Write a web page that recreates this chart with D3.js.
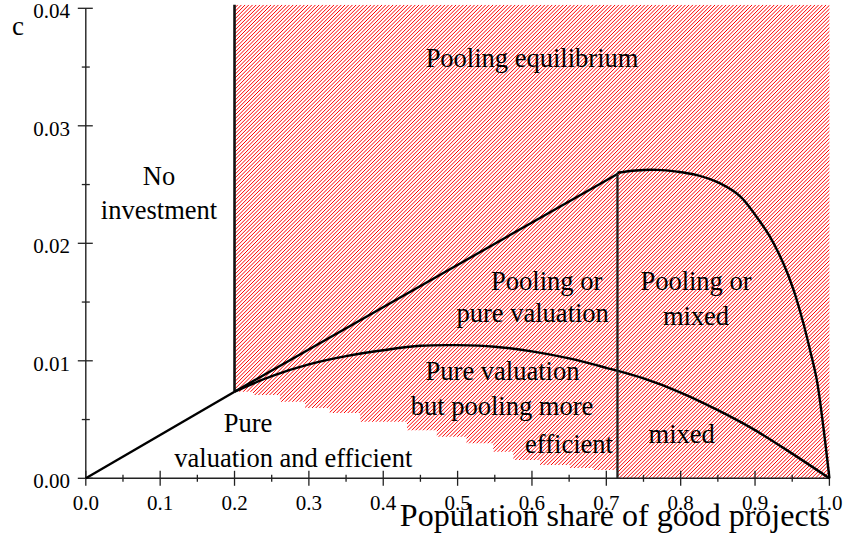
<!DOCTYPE html>
<html>
<head>
<meta charset="utf-8">
<script src="https://cdn.jsdelivr.net/npm/d3@7/dist/d3.min.js"></script>
<style>
  body { margin: 0; background: #fff; }
  svg { display: block; }
</style>
</head>
<body>
<svg id="chart" width="847" height="545"></svg>
<script>
// ---------- data ----------
const xMajorTicks = [0.0, 0.1, 0.2, 0.3, 0.4, 0.5, 0.6, 0.7, 0.8, 0.9, 1.0];
const xMinorTicks = [0.05, 0.15, 0.25, 0.35, 0.45, 0.55, 0.65, 0.75, 0.85, 0.95];
const yMajorTicks = [0.00, 0.01, 0.02, 0.03, 0.04];
const yMinorTicks = [0.005, 0.015, 0.025, 0.035];

const regionTop = 0.0403;
const xLow = 0.2;          // no-investment threshold
const xMix = 0.715;        // mixed threshold

// line from origin to the kink
const entryX = [0.0, 0.2];
const entryC = [0.0, 0.00737];
// straight upper boundary of "pure valuation"
const upperX = [0.2, 0.715];
const upperC = [0.00737, 0.0259];
// curved boundary of "pure valuation but pooling more efficient"
const lowerX = [0.2, 0.25, 0.3, 0.35, 0.4, 0.45, 0.5, 0.55, 0.6, 0.65, 0.7, 0.75, 0.8, 0.85, 0.9, 0.95, 1.0];
const lowerC = [0.00737, 0.0087, 0.0097, 0.0104, 0.0109, 0.01128, 0.01133, 0.0112, 0.0108, 0.0102, 0.0094, 0.0085, 0.0073, 0.0058, 0.0041, 0.0021, 0.0];
// mixed-equilibrium boundary
const mixX = [0.715, 0.74, 0.768, 0.795, 0.822, 0.853, 0.88, 0.902, 0.92, 0.938, 0.952, 0.965, 0.974, 0.983, 0.992, 1.0];
const mixC = [0.0260, 0.02620, 0.02625, 0.02610, 0.02580, 0.0251, 0.0240, 0.02226, 0.02056, 0.0183, 0.0160, 0.0132, 0.0109, 0.0084, 0.0043, 0.0];
// lower edge of the hatched area (staircase)
const edgeX = [0.2, 0.225, 0.261, 0.295, 0.328, 0.369, 0.432, 0.472, 0.512, 0.548, 0.575, 0.611, 0.651, 0.682, 0.715];
const edgeC = [0.00737, 0.00709, 0.00652, 0.00598, 0.00555, 0.00481, 0.00410, 0.00354, 0.00298, 0.00226, 0.00156, 0.00113, 0.00088, 0.00071, 0.00037];

// ---------- drawing ----------
const FONT = '"Liberation Serif", "Times New Roman", Tinos, "DejaVu Serif", serif';
const svg = d3.select("#chart");
const x = d3.scaleLinear().domain([0, 1]).range([85.8, 829.4]);
const y = d3.scaleLinear().domain([0, 0.04]).range([478.3, 8.3]);

const zip = (xs, cs) => xs.map((v, i) => [v, cs[i]]);

// hatched region (clip path + diagonal red lines)
const stepLine = d3.line().x(d => x(d[0])).y(d => y(d[1])).curve(d3.curveStepAfter);
const edgePath = stepLine(zip(edgeX, edgeC));
const regionPath = edgePath +
  "L" + x(xMix) + "," + y(0) +
  "L" + x(1) + "," + y(0) +
  "L" + x(1) + "," + y(regionTop) +
  "L" + x(xLow) + "," + y(regionTop) + "Z";
svg.append("defs").append("clipPath").attr("id", "regionClip")
  .append("path").attr("d", regionPath);

const x0 = x(xLow), x1 = x(1), yT = y(regionTop), yB = y(0);
const H = yB - yT;
const offsets = d3.range(x0 - H - 4, x1 + 4, 3.7);
svg.append("g").attr("clip-path", "url(#regionClip)")
  .selectAll("line").data(offsets).join("line")
  .attr("x1", d => d).attr("y1", yB)
  .attr("x2", d => d + H).attr("y2", yT)
  .style("stroke", "#ff0000").style("stroke-width", "1px");

// axes
const axisColor = "#222";
const gx = svg.append("g");
gx.append("line").attr("x1", x(0)).attr("x2", x(1)).attr("y1", y(0)).attr("y2", y(0))
  .attr("stroke", axisColor).attr("stroke-width", 1.4);
gx.selectAll(".maj").data(xMajorTicks).join("line").attr("class", "maj")
  .attr("x1", d => x(d)).attr("x2", d => x(d)).attr("y1", y(0) - 7.5).attr("y2", y(0) + 7.5)
  .attr("stroke", axisColor).attr("stroke-width", 1.3);
gx.selectAll(".min").data(xMinorTicks).join("line").attr("class", "min")
  .attr("x1", d => x(d)).attr("x2", d => x(d)).attr("y1", y(0) - 3.5).attr("y2", y(0) + 3.5)
  .attr("stroke", axisColor).attr("stroke-width", 1.3);
gx.selectAll("text").data(xMajorTicks).join("text")
  .attr("x", d => x(d)).attr("y", 510).attr("text-anchor", "middle")
  .attr("font-family", FONT).attr("font-size", 21).attr("fill", "#000")
  .text(d => d3.format(".1f")(d));

const gy = svg.append("g");
gy.append("line").attr("x1", x(0)).attr("x2", x(0)).attr("y1", y(0)).attr("y2", y(0.04))
  .attr("stroke", axisColor).attr("stroke-width", 1.4);
gy.selectAll(".maj").data(yMajorTicks).join("line").attr("class", "maj")
  .attr("x1", x(0) - 8).attr("x2", x(0) + 7).attr("y1", d => y(d)).attr("y2", d => y(d))
  .attr("stroke", axisColor).attr("stroke-width", 1.3);
gy.selectAll(".min").data(yMinorTicks).join("line").attr("class", "min")
  .attr("x1", x(0) - 4).attr("x2", x(0) + 4).attr("y1", d => y(d)).attr("y2", d => y(d))
  .attr("stroke", axisColor).attr("stroke-width", 1.3);
gy.selectAll("text").data(yMajorTicks).join("text")
  .attr("x", 70).attr("y", d => y(d) + 10).attr("text-anchor", "end")
  .attr("font-family", FONT).attr("font-size", 21).attr("fill", "#000")
  .text(d => d3.format(".2f")(d));

// axis titles
svg.append("text").attr("x", 12).attr("y", 35).attr("font-family", FONT).attr("font-size", 27).text("c");
svg.append("text").attr("x", 830).attr("y", 526).attr("text-anchor", "end")
  .attr("font-family", FONT).attr("font-size", 32).text("Population share of good projects");

// boundary lines
const line = d3.line().x(d => x(d[0])).y(d => y(d[1]));
const curve = d3.line().x(d => x(d[0])).y(d => y(d[1])).curve(d3.curveCatmullRom.alpha(0.5));
const lw = 2.4;
svg.append("path").attr("d", line(zip(entryX, entryC))).attr("fill", "none").attr("stroke", "#000").attr("stroke-width", lw);
svg.append("path").attr("d", line([[xLow, entryC[1]], [xLow, regionTop]])).attr("fill", "none").attr("stroke", "#111").attr("stroke-width", 2.6);
svg.append("path").attr("d", line(zip(upperX, upperC))).attr("fill", "none").attr("stroke", "#000").attr("stroke-width", lw);
svg.append("path").attr("d", curve(zip(lowerX, lowerC))).attr("fill", "none").attr("stroke", "#000").attr("stroke-width", lw);
svg.append("path").attr("d", line([[xMix, 0], [xMix, mixC[0]]])).attr("fill", "none").attr("stroke", "#222").attr("stroke-width", 2.3);
svg.append("path").attr("d", curve(zip(mixX, mixC))).attr("fill", "none").attr("stroke", "#000").attr("stroke-width", lw);

// region labels
const textLabels = [
  {t: "Pooling equilibrium", px: 532, py: 67},
  {t: "No", px: 159, py: 185},
  {t: "investment", px: 159, py: 219},
  {t: "Pooling or", px: 546.7, py: 290},
  {t: "pure valuation", px: 532.7, py: 322},
  {t: "Pooling or", px: 696, py: 290},
  {t: "mixed", px: 696, py: 325},
  {t: "Pure valuation", px: 502.5, py: 380},
  {t: "but pooling more", px: 502, py: 415},
  {t: "efficient", px: 569, py: 453},
  {t: "mixed", px: 681.7, py: 443},
  {t: "Pure", px: 248, py: 432},
  {t: "valuation and efficient", px: 293.3, py: 467}
];
svg.append("g").selectAll("text").data(textLabels).join("text")
  .attr("x", d => d.px).attr("y", d => d.py).attr("text-anchor", "middle")
  .attr("font-family", FONT).attr("font-size", 26.5).attr("fill", "#000")
  .text(d => d.t);
</script>
</body>
</html>
